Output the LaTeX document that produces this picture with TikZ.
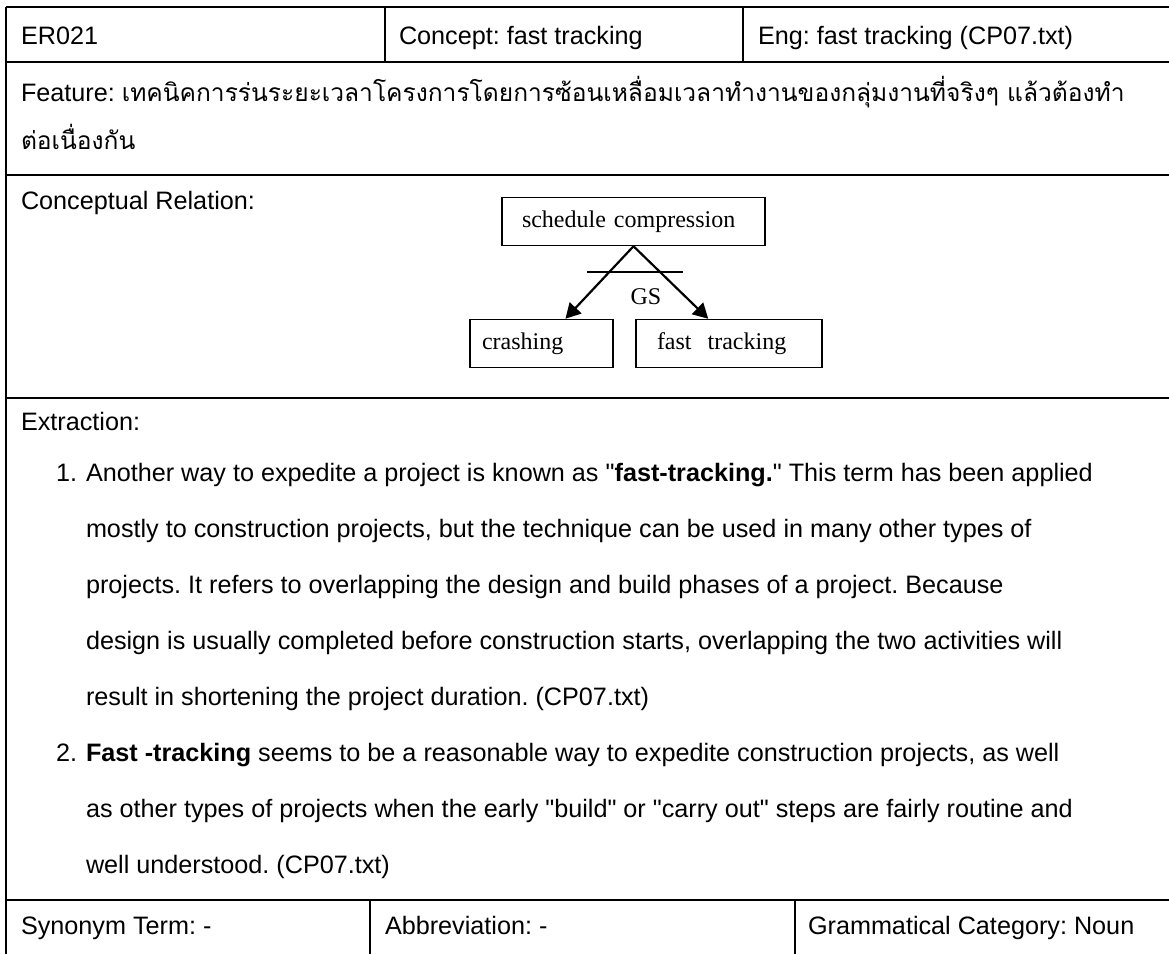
\documentclass[tikz,border=0pt]{standalone}
\usepackage{fontspec}
\setmainfont{Liberation Sans}
\newfontfamily\thaifont[Script=Thai,Scale=0.975]{Loma}
\newfontfamily\diagfont{Liberation Serif}
\usetikzlibrary{arrows.meta,calc}
\frenchspacing

\tikzset{
  cell/.style={anchor=base west, inner sep=0pt, font=\fontsize{12.6}{15}\selectfont},
  concept/.style={draw, line width=0.75pt, minimum height=24pt, align=left,
    font=\diagfont\fontsize{12}{14}\selectfont},
  isa/.style={-{Triangle[length=7.5pt,width=8pt]}, line width=1.1pt},
}

\begin{document}
\begin{tikzpicture}[x=0.5pt,y=-0.5pt,line width=1pt]
\useasboundingbox (0,0) rectangle (1169,954);

% table rules
\draw (6,7) -- (1169,7);
\draw (6,62) -- (1169,62);
\draw (6,175) -- (1169,175);
\draw (6,398) -- (1169,398);
\draw (6,900) -- (1169,900);
\draw (6,7) -- (6,954);
\draw (385,7) -- (385,62);
\draw (743,7) -- (743,62);
\draw (370,900) -- (370,954);
\draw (795,900) -- (795,954);

% header row
\node[cell] (id) at (20,44) {ER021};
\node[cell] (concept) at (398,44) {Concept: fast tracking};
\node[cell] (eng) at (757,44) {Eng: fast tracking (CP07.txt)};

% feature
\node[cell] (feature) at (20,101) {Feature: {\thaifont เทคนิคการร่นระยะเวลาโครงการโดยการซ้อนเหลื่อมเวลาทำงานของกลุ่มงานที่จริงๆ แล้วต้องทำ}};
\node[cell] (feature2) at (20,149) {\thaifont ต่อเนื่องกัน};

% conceptual relation
\node[cell] (relation) at (20,209) {Conceptual Relation:};
\node[concept, minimum width=131.5pt, text width=111.5pt, inner xsep=10pt] (sched) at (633.5,221.5) {schedule compression};
\node[concept, minimum width=71.5pt, text width=59.5pt, inner xsep=6pt] (crash) at (541.5,343.5) {crashing};
\node[concept, minimum width=93pt, text width=72pt, inner xsep=10.5pt] (fast) at (729,343.5) {fast~~tracking};
\draw[isa] (sched.south) -- (crash.46);
\draw[isa] (sched.south) -- (fast.130);
\draw ($(sched.south)+(-47,26)$) -- ($(sched.south)+(49,26)$);
\node[font=\diagfont\fontsize{12}{14}\selectfont, inner sep=0pt] (gs) at (646,297) {GS};

% extraction
\node[cell] (extraction) at (20,430) {Extraction:};
\node[cell] (num1) at (55,481) {1.};
\node[cell] (num2) at (55,761) {2.};
\foreach \txt [count=\k] in {
  {Another way to expedite a project is known as \textquotedbl\textbf{fast-tracking.}\textquotedbl{} This term has been applied},
  {mostly to construction projects, but the technique can be used in many other types of},
  {projects. It refers to overlapping the design and build phases of a project. Because},
  {design is usually completed before construction starts, overlapping the two activities will},
  {result in shortening the project duration. (CP07.txt)},
  {\textbf{Fast -tracking} seems to be a reasonable way to expedite construction projects, as well},
  {as other types of projects when the early \textquotedbl build\textquotedbl{} or \textquotedbl carry out\textquotedbl{} steps are fairly routine and},
  {well understood. (CP07.txt)}}
  \node[cell] (line\k) at (85,{481+56*(\k-1)}) {\txt};

% footer row
\node[cell] (synonym) at (20,934) {Synonym Term: -};
\node[cell] (abbrev) at (384,934) {Abbreviation: -};
\node[cell] (category) at (807,934) {Grammatical Category: Noun};
\end{tikzpicture}
\end{document}
